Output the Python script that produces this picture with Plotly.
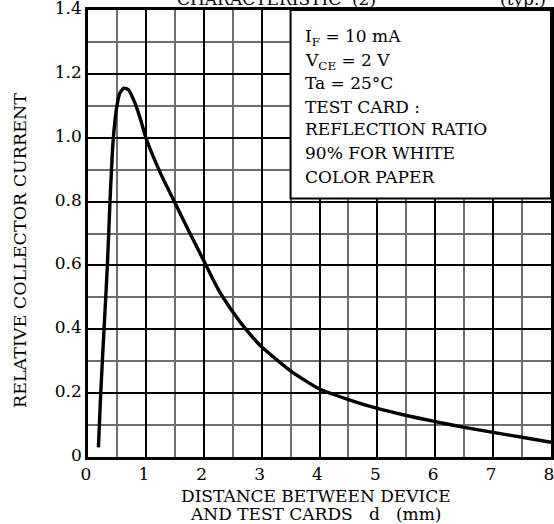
import plotly.graph_objects as go

# ---- data ----
distance_mm = [0.18, 0.22, 0.277, 0.335, 0.38, 0.43, 0.47, 0.5, 0.55, 0.62, 0.7, 0.76, 0.83, 0.92, 1.0,
               1.25, 1.5, 1.75, 2.0, 2.25, 2.5, 2.75, 3.0, 3.5, 4.0, 4.5, 5.0, 5.5, 6.0, 6.5, 7.0, 7.5, 8.0]
relative_current = [0.03, 0.2, 0.4, 0.6, 0.8, 0.98, 1.06, 1.1, 1.14, 1.155, 1.15, 1.13, 1.1, 1.05, 1.0,
                    0.89, 0.797, 0.705, 0.615, 0.525, 0.455, 0.395, 0.345, 0.27, 0.213, 0.18, 0.152,
                    0.13, 0.111, 0.093, 0.077, 0.062, 0.046]

x_tick_vals = [0, 1, 2, 3, 4, 5, 6, 7, 8]
x_tick_text = ["0", "1", "2", "3", "4", "5", "6", "7", "8"]
y_tick_vals = [0, 0.2, 0.4, 0.6, 0.8, 1.0, 1.2, 1.4]
y_tick_text = ["0", "0.2", "0.4", "0.6", "0.8", "1.0", "1.2", "1.4"]

condition_lines = ["I<sub>F</sub> = 10 mA", "V<sub>CE</sub> = 2 V", "Ta = 25°C", "TEST CARD :",
                   "REFLECTION RATIO", "90% FOR WHITE", "COLOR PAPER"]
x_title_lines = ["DISTANCE BETWEEN DEVICE", "AND TEST CARDS   d   (mm)"]

FONT = "DejaVu Serif"

fig = go.Figure()
fig.add_trace(go.Scatter(
    x=distance_mm, y=relative_current, mode="lines",
    line=dict(color="black", width=3.4, shape="spline", smoothing=0.6),
    showlegend=False, hoverinfo="skip"))

W, H = 554, 524
ml, mr, mt, mb = 88, 3, 10, 67

axis_common = dict(showgrid=True, gridcolor="black", gridwidth=1.5,
                   showline=True, linecolor="black", linewidth=2.5, mirror=True,
                   ticks="", ticklen=0, zeroline=False, fixedrange=True, automargin=False,
                   ticklabeloverflow="allow", tickfont=dict(size=17, family=FONT))

fig.update_layout(
    width=W, height=H,
    margin=dict(l=ml, r=mr, t=mt, b=mb, autoexpand=False),
    paper_bgcolor="white", plot_bgcolor="white",
    font=dict(family=FONT, size=16, color="black"),
    showlegend=False,
    xaxis=dict(range=[0, 8], tickvals=x_tick_vals, ticktext=x_tick_text, ticklabelshift=-2,
               minor=dict(dtick=0.5, tick0=0, showgrid=True, gridcolor="#6e6e6e", gridwidth=1.5),
               **axis_common),
    yaxis=dict(range=[0, 1.4], tickvals=y_tick_vals, ticktext=y_tick_text, ticklabelshift=-2,
               minor=dict(dtick=0.1, tick0=0, showgrid=True, gridcolor="#6e6e6e", gridwidth=1.5),
               **axis_common),
)

# condition box
fig.add_shape(type="rect", xref="x", yref="y", x0=3.5, x1=8, y0=0.81, y1=1.4,
              fillcolor="white", line=dict(color="black", width=2), layer="above")

plot_h = H - mt - mb
plot_w = W - ml - mr
def pix_to_y(p):
    return (H - mb - p) / plot_h * 1.4

line_pix = [37, 61, 83, 107, 129, 153, 177]
for txt, p in zip(condition_lines, line_pix):
    fig.add_annotation(text=txt, xref="x", yref="y", x=3.72, y=pix_to_y(p),
                       xanchor="left", yanchor="middle", showarrow=False,
                       font=dict(size=17, family=FONT))

# axis titles
fig.add_annotation(text="RELATIVE COLLECTOR CURRENT", xref="paper", yref="paper",
                   x=-(ml - 20) / plot_w, y=(457 - 251) / plot_h, textangle=-90,
                   xanchor="center", yanchor="middle", showarrow=False,
                   font=dict(size=17.5, family=FONT))
for txt, p in zip(x_title_lines, [496, 514]):
    fig.add_annotation(text=txt, xref="paper", yref="paper", x=(316 - ml) / plot_w,
                       y=-(p - 457) / plot_h, xanchor="center", yanchor="middle",
                       showarrow=False, font=dict(size=17, family=FONT))

# clipped title at the very top
fig.add_annotation(text="CHARACTERISTIC  (2)", xref="paper", yref="paper",
                   x=(378 - ml) / plot_w, y=1, xanchor="right", yanchor="bottom",
                   yshift=-1, showarrow=False, font=dict(size=17, family=FONT))
fig.add_annotation(text="(typ.)", xref="paper", yref="paper",
                   x=(548 - ml) / plot_w, y=1, xanchor="right", yanchor="bottom",
                   yshift=-1, showarrow=False, font=dict(size=17, family=FONT))

fig.write_html("out.html", config={"displayModeBar": False},
               post_script="document.body.style.margin='0';document.body.style.overflow='hidden';")
